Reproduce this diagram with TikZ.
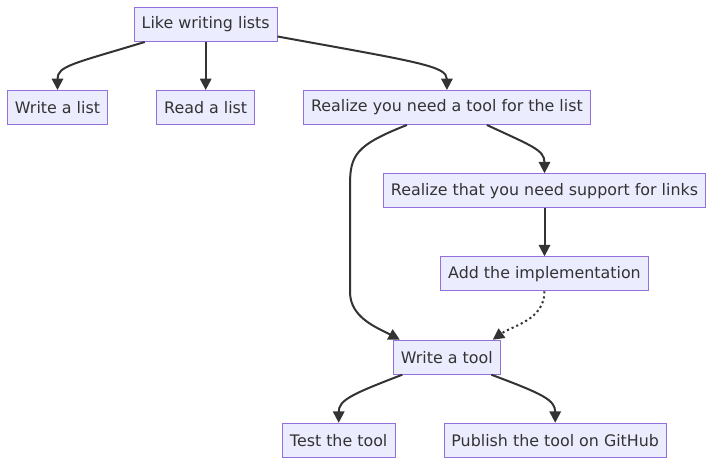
\documentclass[tikz,border=0pt]{standalone}
\usepackage{fontspec}
\setmainfont{DejaVu Sans}
\usetikzlibrary{arrows.meta,calc}
\definecolor{nodefill}{HTML}{ECECFF}
\definecolor{nodeline}{HTML}{9370DB}
\definecolor{ink}{HTML}{333333}
\tikzset{
  box/.style={draw=nodeline, fill=nodefill, line width=0.75pt, minimum height=25.5pt,
    inner sep=0pt, text=ink, font=\fontsize{11.9}{14}\selectfont},
  edge/.style={draw=ink, line width=1.5pt, -{Triangle[length=8.5pt,width=8.5pt]}},
  dotedge/.style={edge, dash pattern=on 1.6pt off 2.2pt}
}
\begin{document}
\begin{tikzpicture}[x=0.75pt,y=-0.75pt]
\useasboundingbox (0,0) rectangle (721,470);
\node[box, minimum width=107pt]   (like)  at (205.7,24.5) {Like writing lists};
\node[box, minimum width=75pt]    (wlist) at (57.5,107.5) {Write a list};
\node[box, minimum width=73.5pt]  (rlist) at (205.7,107.5) {Read a list};
\node[box, minimum width=214.7pt] (real)  at (446.9,107.5) {Realize you need a tool for the list};
\node[box, minimum width=241.2pt] (supp)  at (544.5,190.8) {Realize that you need support for links};
\node[box, minimum width=155.7pt] (impl)  at (544.5,273.8) {Add the implementation};
\node[box, minimum width=80.25pt] (wtool) at (446.8,357.2) {Write a tool};
\node[box, minimum width=84.5pt]  (test)  at (338.7,440.3) {Test the tool};
\node[box, minimum width=166.7pt] (pub)   at (555.2,440.3) {Publish the tool on GitHub};

\draw[edge] ($(like.south)+(-61,0)$) .. controls (72,64) and (57.5,66) .. (wlist.north);
\draw[edge] (like.south) -- (rlist.north);
\draw[edge] ($(like.east)+(0,12)$) .. controls (418,62) and (446.9,66) .. (real.north);
\draw[edge] ($(real.south)+(-40,0)$) .. controls (356,145) and (350,155) .. (350,185)
  -- (350,292) .. controls (350,318) and (378,328) .. ($(wtool.north)+(-47,0)$);
\draw[edge] ($(real.south)+(40,0)$) .. controls (532,146) and (544.5,150) .. (supp.north);
\draw[edge] (supp.south) -- (impl.north);
\draw[dotedge] (impl.south) .. controls (544.5,320) and (512,326) .. ($(wtool.north)+(46,0)$);
\draw[edge] ($(wtool.south)+(-44.5,0)$) .. controls (352,394) and (338.7,400) .. (test.north);
\draw[edge] ($(wtool.south)+(44.5,0)$) .. controls (543,394) and (555.2,400) .. (pub.north);
\end{tikzpicture}
\end{document}
